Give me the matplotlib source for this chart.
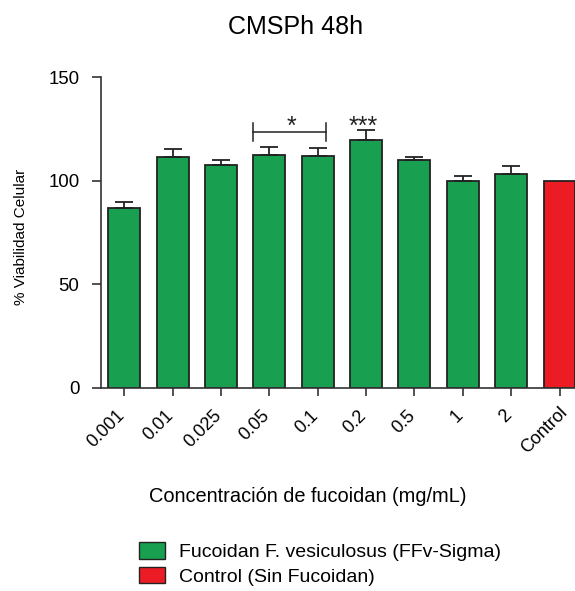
import matplotlib
matplotlib.use("Agg")
import matplotlib.pyplot as plt
from matplotlib.patches import Patch
from matplotlib.transforms import ScaledTranslation

plt.rcParams['font.family'] = ['Liberation Sans', 'DejaVu Sans']

categories = ["0.001", "0.01", "0.025", "0.05", "0.1", "0.2", "0.5", "1", "2", "Control"]
means = [86.7, 111.5, 107.6, 112.3, 112.0, 119.7, 109.9, 99.8, 103.0, 100.0]
errors = [2.9, 3.7, 2.6, 4.0, 3.8, 4.6, 1.6, 2.5, 4.0, 0.0]
green = "#18a050"
red = "#ec1c24"
colors = [green] * 9 + [red]

fig = plt.figure(figsize=(5.75, 5.91), dpi=100)
ax = fig.add_axes([0.175, 0.3435, 0.825, 0.5262])

x = list(range(len(categories)))
ax.bar(x, means, width=0.66, color=colors, edgecolor="#222222", linewidth=1.3, zorder=2)
for xi, m, e in zip(x, means, errors):
    if e > 0:
        ax.errorbar(xi, m, yerr=[[0], [e]], fmt="none", ecolor="#222222",
                    elinewidth=1.3, capsize=6.5, capthick=1.3, zorder=3)

# significance annotations
yb = 123.5
xl, xr = 3 - 0.33, 4 + 0.17
ax.plot([xl, xr], [yb, yb], color="#222222", lw=1.1)
ax.plot([xl, xl], [yb - 4.5, yb + 4.4], color="#222222", lw=1.1)
ax.plot([xr, xr], [yb - 4.5, yb + 4.4], color="#222222", lw=1.1)
ax.text(3.46, 122.7, "*", ha="center", va="baseline", fontsize=18, color="#222222")
ax.text(4.95, 122.7, "***", ha="center", va="baseline", fontsize=18, color="#222222")

ax.set_xlim(-0.49, 9.32)
ax.set_ylim(0, 150)
ax.set_yticks([0, 50, 100, 150])
ax.set_xticks(x)
ax.tick_params(axis="y", labelsize=13.4, length=6.7, width=1.2, direction="out",
               color="#333333", pad=8.5)
ax.tick_params(axis="x", length=5.8, width=1.2, direction="out", color="#333333", pad=8)
ax.set_xticklabels(categories, rotation=45, ha="right", va="top",
                   rotation_mode="default", fontsize=13)
for lab in ax.get_xticklabels():
    dx, dy = 4, 0
    if lab.get_text() == "Control":
        dx, dy = 11, 3
    lab.set_transform(lab.get_transform() + ScaledTranslation(dx / 100, dy / 100, fig.dpi_scale_trans))

for s in ["top", "right"]:
    ax.spines[s].set_visible(False)
for s in ["left", "bottom"]:
    ax.spines[s].set_linewidth(1.2)
    ax.spines[s].set_color("#333333")

fig.text(21.5 / 575, 1 - 237 / 591, "% Viabilidad Celular", rotation=90,
         ha="center", va="center", fontsize=11)
fig.text(308 / 575, 1 - 497 / 591, "Concentración de fucoidan (mg/mL)",
         ha="center", va="center", fontsize=14.4)
fig.text(296 / 575, 1 - 27 / 591, "CMSPh 48h", ha="center", va="center", fontsize=18)

handles = [Patch(facecolor=green, edgecolor="#222222", linewidth=1.0),
           Patch(facecolor=red, edgecolor="#222222", linewidth=1.0)]
labels = ["Fucoidan F. vesiculosus (FFv-Sigma)", "Control (Sin Fucoidan)"]
fig.legend(handles, labels, loc="upper left", bbox_to_anchor=(139 / 575, 1 - 542 / 591),
           frameon=False, fontsize=14, handlelength=1.34, handleheight=0.93,
           labelspacing=0.29, handletextpad=0.74, borderpad=0, borderaxespad=0)

fig.savefig("out.png", dpi=100)
